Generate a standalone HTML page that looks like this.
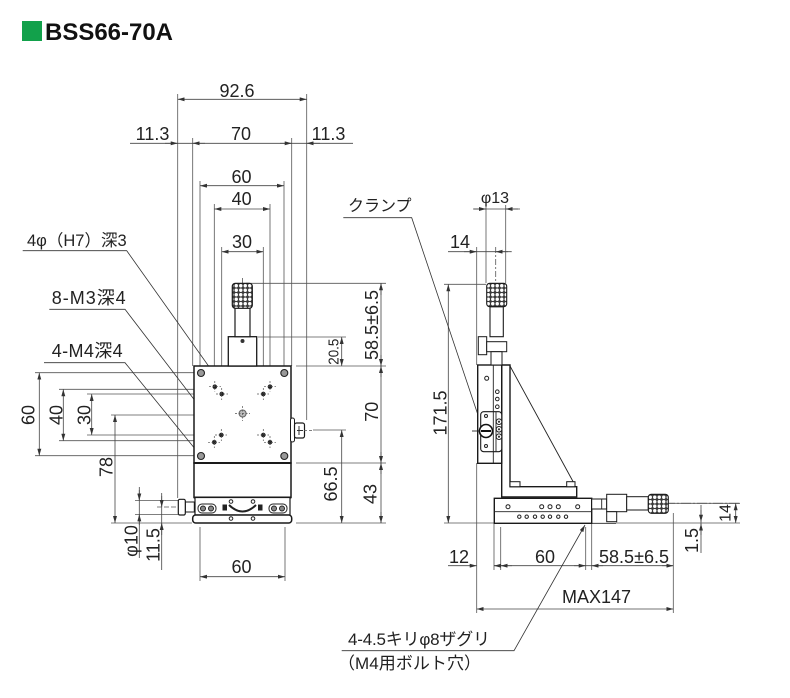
<!DOCTYPE html>
<html><head><meta charset="utf-8">
<style>
html,body{margin:0;padding:0;background:#fff;}
svg{display:block;}
text{font-family:"Liberation Sans","Noto Sans CJK JP",sans-serif;fill:#222;font-size:18px;}
.jp{font-size:16px;}
</style></head><body>
<svg width="790" height="698" viewBox="0 0 790 698" xmlns="http://www.w3.org/2000/svg">
<defs>
<marker id="a" viewBox="0 0 7 4" refX="7" refY="2" markerWidth="7" markerHeight="4" markerUnits="userSpaceOnUse" orient="auto-start-reverse"><path d="M0,0 L7,2 L0,4 z" fill="#333"/></marker>
<pattern id="k" width="4.5" height="4.5" patternUnits="userSpaceOnUse"><rect width="4.5" height="4.5" fill="#3a3a3a"/><circle cx="2.25" cy="2.25" r="1.7" fill="#fff"/></pattern>
</defs>

<!-- title -->
<rect x="22" y="21" width="20" height="20" fill="#12a14b"/>
<text x="45" y="40" font-weight="bold" textLength="128" lengthAdjust="spacingAndGlyphs" style="font-size:24px;fill:#111">BSS66-70A</text>

<!-- extension lines -->
<g stroke="#555" stroke-width="0.8" fill="none">
<path d="M177.7,94V498M192.7,138V366M200,181V368M214.3,204V382M221.7,247V389M263.3,247V389M270,204V382M284,181V368M291.7,138V366M306.7,94V420"/>
<path d="M246,283.3H386M258,337H346M296,366H386M296,463H386M296,523H386M313,430H346"/>
<path d="M35,372.7H198M59,389.3H212M87,394H219M111,415H239M87,435H219M59,440.7H212M35,455.7H198M111,523H192"/>
<path d="M135,500.5H178M135,514.4H178M200,527V581M285,527V581"/>
<path d="M157,507H178" stroke-dasharray="5 2"/>
<path d="M486,205V283M505.7,205V283M476.7,247V365M444,284.3H486M444,523H494"/>
<path d="M495.7,247V283" stroke-dasharray="6 2 2 2"/>
<path d="M476.7,463V613M494,524V570M500.7,527V570M585.7,527V570M591.7,524V570M673.3,513V613"/>
<path d="M668,503.3H740M616,523H740"/>
<path d="M585,503.3H740" stroke-dasharray="10 2 2 2"/>
<path d="M242.5,278V292" />
</g>

<!-- dimension lines -->
<g stroke="#444" stroke-width="0.8" fill="none">
<path d="M177.7,99.3H306.7" marker-start="url(#a)" marker-end="url(#a)"/>
<path d="M130,143.3H353"/>
<path d="M165,143.3H177.7" marker-end="url(#a)"/>
<path d="M205,143.3H192.7" marker-end="url(#a)"/>
<path d="M280,143.3H291.7" marker-end="url(#a)"/>
<path d="M320,143.3H306.7" marker-end="url(#a)"/>
<path d="M200,185.7H284" marker-start="url(#a)" marker-end="url(#a)"/>
<path d="M214.3,209H270" marker-start="url(#a)" marker-end="url(#a)"/>
<path d="M221.7,251.7H263.3" marker-start="url(#a)" marker-end="url(#a)"/>

<path d="M381,283.3V523"/>
<path d="M381,295V283.3" marker-end="url(#a)"/>
<path d="M381,355V366" marker-end="url(#a)"/>
<path d="M381,377V366" marker-end="url(#a)"/>
<path d="M381,452V463" marker-end="url(#a)"/>
<path d="M381,474V463" marker-end="url(#a)"/>
<path d="M381,512V523" marker-end="url(#a)"/>
<path d="M341.7,337V366" marker-start="url(#a)" marker-end="url(#a)"/>
<path d="M341.7,430V523" marker-start="url(#a)" marker-end="url(#a)"/>

<path d="M39.3,372.7V455.7" marker-start="url(#a)" marker-end="url(#a)"/>
<path d="M63.3,389.3V440.7" marker-start="url(#a)" marker-end="url(#a)"/>
<path d="M91.7,394V435" marker-start="url(#a)" marker-end="url(#a)"/>
<path d="M115,415V523" marker-start="url(#a)" marker-end="url(#a)"/>

<path d="M139.3,487V558"/>
<path d="M139.3,490V500.5" marker-end="url(#a)"/>
<path d="M139.3,525V514.4" marker-end="url(#a)"/>
<path d="M161.7,493V570"/>
<path d="M161.7,496V507" marker-end="url(#a)"/>
<path d="M161.7,535V523" marker-end="url(#a)"/>
<path d="M200,576.7H285" marker-start="url(#a)" marker-end="url(#a)"/>

<path d="M473,209H520"/>
<path d="M474,209H486" marker-end="url(#a)"/>
<path d="M518,209H505.7" marker-end="url(#a)"/>
<path d="M448,251.7H511.7"/>
<path d="M464,251.7H476.7" marker-end="url(#a)"/>
<path d="M508,251.7H495.7" marker-end="url(#a)"/>
<path d="M448.3,284.3V523" marker-start="url(#a)" marker-end="url(#a)"/>

<path d="M448,565.7H476.7" marker-end="url(#a)"/>
<path d="M494,565.7H673.3"/>
<path d="M501,565.7H494" marker-end="url(#a)"/>
<path d="M512,565.7H500.7" marker-end="url(#a)"/>
<path d="M574,565.7H585.7" marker-end="url(#a)"/>
<path d="M603,565.7H591.7" marker-end="url(#a)"/>
<path d="M662,565.7H673.3" marker-end="url(#a)"/>
<path d="M476.7,609H673.3" marker-start="url(#a)" marker-end="url(#a)"/>
<path d="M735.7,503.3V523" marker-start="url(#a)" marker-end="url(#a)"/>
<path d="M701,505V553"/>
<path d="M701,510V521.7" marker-end="url(#a)"/>
<path d="M701,535V523.7" marker-end="url(#a)"/>
</g>

<!-- leaders -->
<g stroke="#333" stroke-width="0.8" fill="none">
<path d="M22.7,250.7H126.7L241.7,412.7"/>
<path d="M49.3,309.3H125L220,433.3"/>
<path d="M44,362.7H125L200,455"/>
<path d="M343.3,217.7H411.7L479,418"/>
<path d="M341.7,650.7H514L585,525" marker-end="url(#a)"/>
</g>

<!-- FRONT VIEW -->
<g stroke="#1a1a1a" fill="#fff" stroke-width="1.5">
<rect x="194" y="366" width="97" height="97"/>
<rect x="194" y="463" width="97" height="34.5"/>
<path d="M194,463H291M194,497.5H291" stroke-width="2"/>
<rect x="195" y="497.5" width="95" height="17.5" stroke-width="1.2"/>
<rect x="192.7" y="515" width="99" height="8" rx="3"/>
<rect x="228.3" y="336.7" width="28.4" height="29.3" stroke-width="1.3"/>
<rect x="235" y="308" width="15" height="28.7" stroke-width="1.2"/>
<rect x="232.3" y="283.3" width="20" height="25" rx="3" fill="url(#k)" stroke-width="1.2"/>
<rect x="290.5" y="418" width="4" height="24" rx="2" stroke-width="1"/>
<rect x="294.5" y="423" width="10" height="15" rx="2" stroke-width="1.2"/>
<rect x="185.3" y="502" width="9" height="10" stroke-width="1"/>
<rect x="178.3" y="499.3" width="7" height="15.7" rx="1.5" stroke-width="1.2"/>
</g>
<circle cx="242.5" cy="341" r="2" fill="#333"/>
<path d="M304,430.5H313" stroke="#555" stroke-width="0.8" stroke-dasharray="3 2"/>
<path d="M297,430.5H303M299,426V435" stroke="#333" stroke-width="1"/>
<g stroke="#222" stroke-width="1" fill="#fff">
<rect x="198" y="504" width="18" height="9" rx="4"/>
<circle cx="203" cy="508.5" r="2.5" fill="#888"/>
<circle cx="211" cy="508.5" r="2.5" fill="#888"/>
<rect x="269" y="504" width="18" height="9" rx="4"/>
<circle cx="274" cy="508.5" r="2.5" fill="#888"/>
<circle cx="282" cy="508.5" r="2.5" fill="#888"/>
<rect x="223" y="505" width="3.5" height="5" fill="#222"/>
<rect x="258.5" y="505" width="3.5" height="5" fill="#222"/>
<path d="M229,505Q242.5,518 256,505" fill="none" stroke-width="2"/>
<circle cx="231" cy="501.5" r="1.8"/>
<circle cx="253" cy="501.5" r="1.8"/>
<circle cx="231" cy="518.5" r="1.8"/>
<circle cx="253" cy="518.5" r="1.8"/>
</g>
<g stroke="#222" stroke-width="1.1">
<circle cx="201" cy="373" r="3.5" fill="#999"/>
<circle cx="284.3" cy="373" r="3.5" fill="#999"/>
<circle cx="201" cy="456" r="3.5" fill="#999"/>
<circle cx="284.3" cy="456" r="3.5" fill="#999"/>
<circle cx="242.6" cy="413.5" r="3.5" fill="#bbb" stroke="#666"/>
</g>
<g fill="#222">
<circle cx="214.8" cy="386.7" r="2.3"/><circle cx="221.7" cy="394" r="2.3"/>
<circle cx="270" cy="386.7" r="2.3"/><circle cx="263.3" cy="394" r="2.3"/>
<circle cx="221.3" cy="435" r="2.3"/><circle cx="214.3" cy="442.3" r="2.3"/>
<circle cx="263.3" cy="435" r="2.3"/><circle cx="270" cy="442.3" r="2.3"/>
</g>
<g stroke="#555" stroke-width="0.7" stroke-dasharray="2 1.5">
<path d="M209,386.7h12M214.8,381v11M216,394h12M221.7,388v12M264,386.7h12M270,381v11M257,394h12M263.3,388v12"/>
<path d="M215,435h12M221.3,429v12M208,442.3h12M214.3,436v12M257,435h12M263.3,429v12M264,442.3h12M270,436v12"/>
<path d="M235,413.5h15M242.6,406v15"/>
</g>

<!-- SIDE VIEW -->
<g stroke="#1a1a1a" fill="#fff" stroke-width="1.4">
<path d="M501.7,365H510V486.7H576.7V497H501.7Z"/>
<rect x="510" y="481.7" width="10" height="5" stroke-width="1"/>
<rect x="566.7" y="481.7" width="8.3" height="5" stroke-width="1"/>
<rect x="477.7" y="365" width="24" height="98.3"/>
<rect x="478.3" y="336.7" width="8.4" height="18" stroke-width="1"/>
<rect x="486.7" y="341.7" width="20" height="10" stroke-width="1"/>
<rect x="491" y="351.7" width="11" height="13.3" stroke-width="1"/>
<rect x="490" y="306.7" width="13.3" height="30" stroke-width="1.1"/>
<rect x="486.7" y="283.3" width="20" height="23.4" rx="3" fill="url(#k)" stroke-width="1.1"/>
<rect x="494.3" y="498.3" width="97.4" height="25"/>
<rect x="480.7" y="411.7" width="21" height="40" rx="3" stroke-width="1.1"/>
<rect x="591.7" y="499" width="15" height="10" stroke-width="1"/>
<rect x="606.7" y="494.3" width="20" height="17.4" stroke-width="1"/>
<rect x="626.7" y="496.7" width="21.6" height="13.3" stroke-width="1"/>
<rect x="648.3" y="494.3" width="20" height="19" rx="3" fill="url(#k)" stroke-width="1.1"/>
<rect x="606.7" y="511.7" width="10" height="10" stroke-width="1"/>
</g>
<g stroke="#222" stroke-width="0.9" fill="none">
<path d="M493.3,365V463M494.3,511.7H591.7M510,366L573.3,482M591.7,523.3H616M601.7,499V509M496,411.7V451.7"/>
<path d="M472,431H480"/>
</g>
<circle cx="486" cy="431" r="6.5" fill="#fff" stroke="#111" stroke-width="1.6"/>
<path d="M481,431H491" stroke="#111" stroke-width="2"/>
<g stroke="#222" stroke-width="1" fill="#fff">
<circle cx="499" cy="421.7" r="2.8"/><circle cx="499" cy="429.3" r="2.8"/><circle cx="499" cy="436.7" r="2.8"/>
<circle cx="486" cy="416" r="1.5"/><circle cx="486" cy="446" r="1.5"/>
<circle cx="486.7" cy="378.3" r="2"/>
<circle cx="497.3" cy="391.7" r="1.8"/><circle cx="497.3" cy="399" r="1.8"/><circle cx="497.3" cy="406.7" r="1.8"/>
<circle cx="508" cy="506.7" r="2"/><circle cx="541.7" cy="506.7" r="2"/><circle cx="550" cy="506.7" r="2"/><circle cx="558.3" cy="506.7" r="2"/><circle cx="577.7" cy="506.7" r="2"/>
<circle cx="519.3" cy="516.7" r="1.7"/><circle cx="526.7" cy="516.7" r="1.7"/><circle cx="535" cy="516.7" r="1.7"/><circle cx="542.7" cy="516.7" r="1.7"/><circle cx="550" cy="516.7" r="1.7"/><circle cx="558.3" cy="516.7" r="1.7"/><circle cx="566" cy="516.7" r="1.7"/>
</g>
<g fill="#333"><circle cx="499" cy="421.7" r="1.1"/><circle cx="499" cy="429.3" r="1.1"/><circle cx="499" cy="436.7" r="1.1"/></g>

<!-- horizontal texts -->
<g text-anchor="middle">
<text x="237" y="97">92.6</text>
<text x="152.5" y="140">11.3</text>
<text x="241" y="140">70</text>
<text x="328.5" y="140">11.3</text>
<text x="241.5" y="183">60</text>
<text x="241.7" y="205">40</text>
<text x="242" y="248">30</text>
<text x="241.5" y="573">60</text>
<text x="495" y="203" style="font-size:16px">φ13</text>
<text x="460" y="248">14</text>
<text x="459" y="563">12</text>
<text x="545" y="563">60</text>
<text x="634" y="563">58.5±6.5</text>
<text x="596.5" y="603">MAX147</text>
</g>
<g text-anchor="middle">
<text transform="translate(333,351.7) rotate(-90)" y="5.5" style="font-size:15px" textLength="26" lengthAdjust="spacingAndGlyphs">20.5</text>
<text transform="translate(371.7,325) rotate(-90)" y="6.5">58.5±6.5</text>
<text transform="translate(371.7,411.7) rotate(-90)" y="6.5">70</text>
<text transform="translate(330.5,484) rotate(-90)" y="6.5">66.5</text>
<text transform="translate(370,494) rotate(-90)" y="6.5">43</text>
<text transform="translate(28,415) rotate(-90)" y="6.5">60</text>
<text transform="translate(56,415) rotate(-90)" y="6.5">40</text>
<text transform="translate(84,415) rotate(-90)" y="6.5">30</text>
<text transform="translate(106,467) rotate(-90)" y="6.5">78</text>
<text transform="translate(131,541) rotate(-90)" y="6.5">φ10</text>
<text transform="translate(153,545) rotate(-90)" y="6.5">11.5</text>
<text transform="translate(440,413) rotate(-90)" y="6.5">171.5</text>
<text transform="translate(725,513) rotate(-90)" y="5.5" style="font-size:16px">14</text>
<text transform="translate(691.7,540.5) rotate(-90)" y="6.5">1.5</text>
</g>
<!-- japanese labels -->
<text x="27" y="246" style="font-size:16.5px">4φ（H7）深3</text>
<text x="51.7" y="304" style="font-size:18px" textLength="74" lengthAdjust="spacing">8-M3深4</text>
<text x="51.7" y="357" style="font-size:18px" textLength="71" lengthAdjust="spacing">4-M4深4</text>
<text x="348" y="211" style="font-size:16px">クランプ</text>
<text x="348" y="645" style="font-size:17px" textLength="142" lengthAdjust="spacing">4-4.5キリφ8ザグリ</text>
<text x="338" y="669" style="font-size:17px" textLength="143" lengthAdjust="spacing">（M4用ボルト穴）</text>
</svg>
</body></html>
